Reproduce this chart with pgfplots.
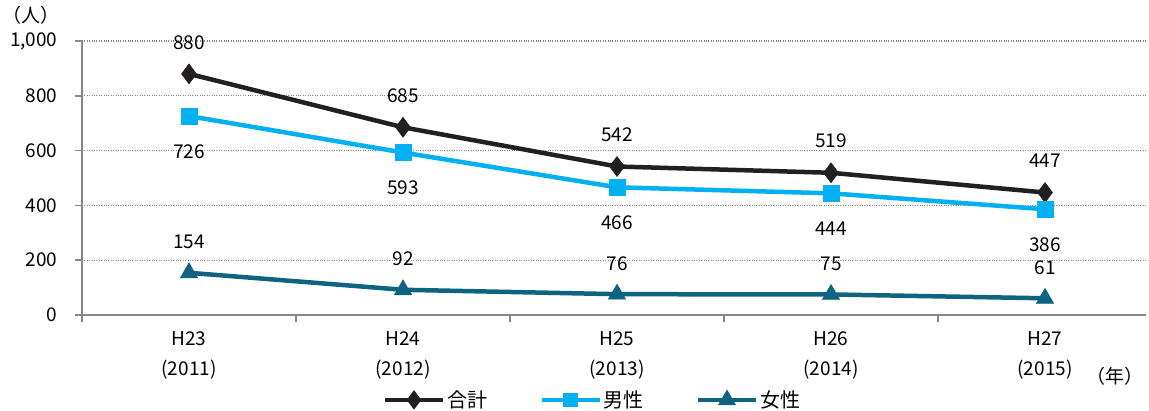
\documentclass[border=0pt]{standalone}
\usepackage{pgfplots}
\pgfplotsset{compat=1.18}
\usepackage{fontspec}
\setmainfont{Noto Sans CJK JP}
\definecolor{cTotal}{RGB}{35,31,32}
\definecolor{cMale}{RGB}{0,176,240}
\definecolor{cFemale}{RGB}{14,100,128}
\definecolor{cAxis}{RGB}{134,134,134}
\begin{document}
\begin{tikzpicture}
\path[use as bounding box] (-82pt,-96pt) rectangle (1067pt,315pt);
\begin{axis}[
  scale only axis,
  width=1063.6pt, height=274pt,
  xmin=-0.5, xmax=4.47,
  ymin=0, ymax=1000,
  clip=false,
  axis x line*=bottom, axis y line*=left,
  axis line style={cAxis, line width=1.5pt},
  every axis plot/.append style={line width=4.5pt},
  ytick={0,200,400,600,800,1000},
  yticklabel style={font=\fontsize{19}{19}\selectfont, xshift=-14pt},
  /pgf/number format/assume math mode=true,
  /pgf/number format/1000 sep={,},
  xtick={0,1,2,3,4},
  xticklabels={H23\\(2011),H24\\(2012),H25\\(2013),H26\\(2014),H27\\(2015)},
  xticklabel style={align=center, font=\fontsize{19}{30}\selectfont, yshift=-6pt},
  major x tick style={draw=none},
  minor xtick={-0.5,0.5,1.5,2.5,3.5},
  tick align=outside,
  major tick length=7pt, minor tick length=7pt,
  tick style={cAxis, line width=1.5pt},
  ymajorgrids,
  grid style={cAxis, dotted, line width=1.2pt},
  nodes near coords,
  every node near coord/.append style={font=\fontsize{19}{19}\selectfont, text=black},
  legend columns=3,
  legend style={at={(0.48,-0.31)}, anchor=center, draw=none, fill=none,
    font=\fontsize{20}{20}\selectfont,
    /tikz/every even column/.append style={column sep=50pt}},
  legend image code/.code={
    \draw[mark repeat=2, mark phase=2, mark options={scale=0.6}] plot coordinates {(0pt,0pt) (29pt,0pt) (58pt,0pt)};
  },
]
\addplot[cTotal, mark=diamond*, mark size=10pt, mark options={solid, fill=cTotal, line width=0.5pt},
  every node near coord/.append style={anchor=south, yshift=21pt}]
  coordinates {(0,880) (1,685) (2,542) (3,519) (4,447)};
\addlegendentry{合計}
\addplot[cMale, mark=square*, mark size=8pt, mark options={solid, fill=cMale, line width=0.5pt},
  every node near coord/.append style={anchor=north, yshift=-25pt}]
  coordinates {(0,726) (1,593) (2,466) (3,444) (4,386)};
\addlegendentry{男性}
\addplot[cFemale, mark=triangle*, mark size=10pt, mark options={solid, fill=cFemale, line width=0.5pt},
  every node near coord/.append style={anchor=south, yshift=20pt}]
  coordinates {(0,154) (1,92) (2,76) (3,75) (4,61)};
\addlegendentry{女性}
\node[font=\fontsize{19}{19}\selectfont] at (axis description cs:-0.048,1.095) {（人）};
\node[font=\fontsize{19}{19}\selectfont] at (axis description cs:0.971,-0.223) {（年）};
\end{axis}
\end{tikzpicture}
\end{document}
